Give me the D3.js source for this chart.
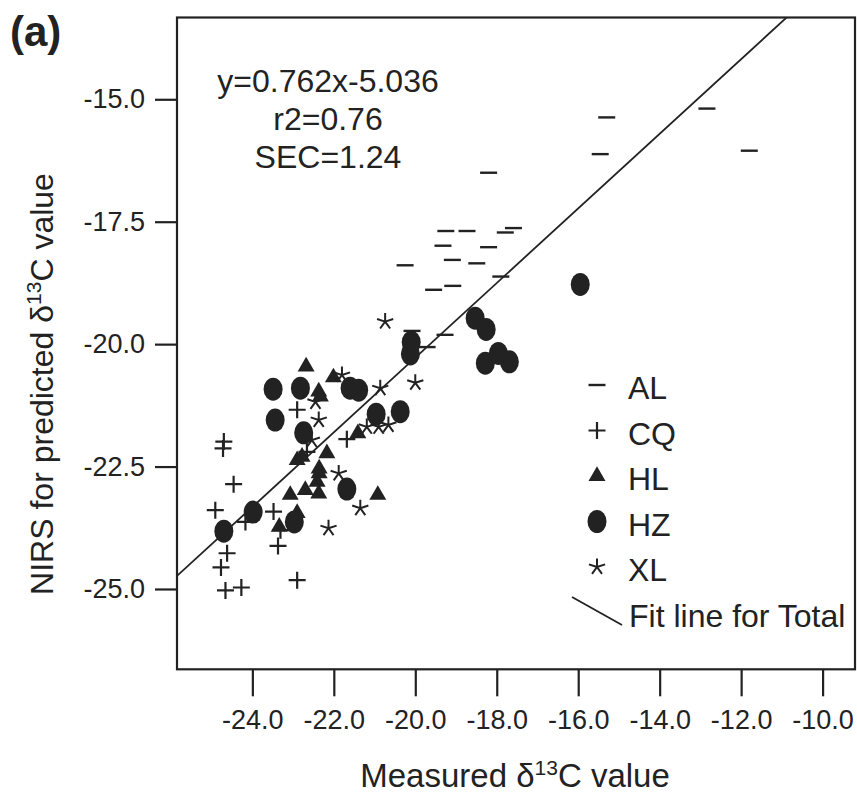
<!DOCTYPE html>
<html>
<head>
<meta charset="utf-8">
<script src="https://cdn.jsdelivr.net/npm/d3@7"></script>
<style>
  body { margin: 0; background: #fff; }
  svg text { font-family: 'Liberation Sans', Arial, sans-serif; fill: #222; }
</style>
</head>
<body>
<script>
// board size
var width = 857;
var height = 799;

// [measured, predicted] pairs, one array per site
var AL = [[-12.84, -15.19], [-15.30, -15.37], [-15.46, -16.12], [-11.80, -16.05], [-18.20, -16.50],
          [-19.25, -17.69], [-18.73, -17.69], [-17.79, -17.72], [-17.59, -17.63], [-19.32, -17.99],
          [-18.20, -18.02], [-19.09, -18.28], [-18.49, -18.35], [-20.25, -18.39], [-17.90, -18.62],
          [-19.55, -18.89], [-19.08, -18.81], [-19.27, -19.81], [-19.71, -20.06], [-20.08, -19.73]];
var CQ = [[-22.90, -21.34], [-24.70, -21.99], [-24.72, -22.13], [-24.46, -22.86], [-24.91, -23.39],
          [-24.17, -23.63], [-23.48, -23.42], [-23.31, -23.80], [-23.37, -24.12], [-24.62, -24.27],
          [-24.77, -24.56], [-24.66, -25.03], [-24.27, -24.97], [-22.90, -24.82], [-21.68, -21.94],
          [-22.66, -22.20]];
var HL = [[-22.68, -20.46], [-22.01, -20.68], [-22.37, -20.97], [-22.33, -21.07], [-21.41, -21.82],
          [-22.90, -22.37], [-22.78, -22.30], [-22.17, -22.23], [-22.36, -22.54], [-22.36, -22.64],
          [-22.41, -22.81], [-23.07, -23.08], [-22.70, -22.98], [-22.37, -23.05], [-20.92, -23.08],
          [-23.34, -23.73], [-22.90, -23.45]];
var HZ = [[-23.49, -20.92], [-22.82, -20.90], [-21.60, -20.90], [-21.39, -20.94], [-23.44, -21.55],
          [-22.74, -21.81], [-20.96, -21.43], [-20.37, -21.38], [-21.68, -22.96], [-23.98, -23.43],
          [-24.70, -23.82], [-22.97, -23.63], [-20.10, -19.96], [-20.12, -20.20], [-18.53, -19.47],
          [-18.26, -19.70], [-15.95, -18.78], [-18.28, -20.39], [-17.96, -20.19], [-17.69, -20.36]];
var XL = [[-20.74, -19.54], [-21.80, -20.63], [-20.86, -20.90], [-20.00, -20.79], [-22.45, -21.18],
          [-22.37, -21.55], [-22.54, -21.96], [-21.19, -21.69], [-20.90, -21.69], [-20.66, -21.65],
          [-21.88, -22.64], [-21.35, -23.35], [-22.13, -23.76]];

var xTicks = [-24, -22, -20, -18, -16, -14, -12, -10];
var yTicks = [-25, -22.5, -20, -17.5, -15];
var fitSlope = 0.762;
var fitIntercept = -5.036;
var statLines = ['y=0.762x-5.036', 'r2=0.76', 'SEC=1.24'];
var groups = [
  { name: 'AL', kind: 'dash', data: AL },
  { name: 'CQ', kind: 'plus', data: CQ },
  { name: 'HL', kind: 'tri', data: HL },
  { name: 'HZ', kind: 'dot', data: HZ },
  { name: 'XL', kind: 'star', data: XL }
];

var ink = '#222';
var svg = d3.select('body').append('svg')
            .attr('width', width)
            .attr('height', height);

var x = d3.scaleLinear().domain([-25.85, -9.18]).range([177, 856]);
var y = d3.scaleLinear().domain([-26.64, -13.33]).range([669.3, 17.5]);

// plain hyphen, not the unicode minus d3 uses
var fmt = function(d) { return d.toFixed(1); };

svg.append('clipPath').attr('id', 'plotclip')
  .append('rect')
  .attr('x', x.range()[0]).attr('y', y.range()[1])
  .attr('width', x.range()[1] - x.range()[0])
  .attr('height', y.range()[0] - y.range()[1]);

// axes
var xAxis = svg.append('g')
  .attr('transform', 'translate(0,' + y.range()[0] + ')')
  .call(d3.axisBottom(x).tickValues(xTicks).tickFormat(fmt)
        .tickSize(27).tickSizeOuter(0).tickPadding(14));
var yAxis = svg.append('g')
  .attr('transform', 'translate(' + x.range()[0] + ',0)')
  .call(d3.axisLeft(y).tickValues(yTicks).tickFormat(fmt)
        .tickSize(22).tickSizeOuter(0).tickPadding(10));
[xAxis, yAxis].forEach(function(a) {
  a.select('.domain').remove();
  a.selectAll('line').attr('stroke', ink).attr('stroke-width', 2.2);
  a.selectAll('text').style('font-size', '27px').style('font-family', null).attr('fill', ink);
});

// frame
svg.append('rect')
  .attr('x', x.range()[0]).attr('y', y.range()[1])
  .attr('width', x.range()[1] - x.range()[0] - 1)
  .attr('height', y.range()[0] - y.range()[1])
  .attr('fill', 'none').attr('stroke', ink).attr('stroke-width', 2.2);

// fit line
var xd = x.domain();
svg.append('line')
  .attr('clip-path', 'url(#plotclip)')
  .attr('x1', x(xd[0])).attr('y1', y(fitSlope * xd[0] + fitIntercept))
  .attr('x2', x(xd[1])).attr('y2', y(fitSlope * xd[1] + fitIntercept))
  .attr('stroke', ink).attr('stroke-width', 1.8);

// marker painter
var drawMarker = function(sel, kind) {
  if (kind === 'dash') {
    sel.append('path').attr('d', 'M-8.5,0H8.5').attr('stroke', ink).attr('stroke-width', 2.4);
  } else if (kind === 'plus') {
    sel.append('path').attr('d', 'M-8.5,0H8.5M0,-8.5V8.5').attr('stroke', ink).attr('stroke-width', 2.2);
  } else if (kind === 'tri') {
    sel.append('path').attr('d', d3.symbol().type(d3.symbolTriangle).size(125)).attr('fill', ink);
  } else if (kind === 'dot') {
    sel.append('ellipse').attr('rx', 9.5).attr('ry', 11.5).attr('fill', ink);
  } else {
    var d = '';
    for (var k = 0; k < 5; k++) {
      var a = -Math.PI / 2 + k * 2 * Math.PI / 5;
      d += 'M0,0L' + (8.5 * Math.cos(a)).toFixed(2) + ',' + (8.5 * Math.sin(a)).toFixed(2);
    }
    sel.append('path').attr('d', d).attr('stroke', ink).attr('stroke-width', 2).attr('fill', 'none');
  }
};

groups.forEach(function(g) {
  svg.append('g').selectAll('g.pt')
    .data(g.data)
    .enter()
    .append('g')
    .attr('class', 'pt')
    .attr('transform', function(d) { return 'translate(' + x(d[0]) + ',' + y(d[1]) + ')'; })
    .each(function() { drawMarker(d3.select(this), g.kind); });
});

// stats text
svg.append('g').selectAll('text')
  .data(statLines)
  .enter()
  .append('text')
  .attr('x', 328)
  .attr('y', function(d, i) { return 92 + i * 38; })
  .attr('text-anchor', 'middle')
  .style('font-size', '32px')
  .text(function(d) { return d; });

// legend
var legend = svg.append('g');
groups.forEach(function(g, i) {
  var row = legend.append('g').attr('transform', 'translate(597,' + (385 + i * 45.5) + ')');
  drawMarker(row, g.kind);
  row.append('text').attr('x', 31).attr('y', 14).style('font-size', '32px').text(g.name);
});
legend.append('line')
  .attr('x1', 572).attr('y1', 597).attr('x2', 622).attr('y2', 625)
  .attr('stroke', ink).attr('stroke-width', 1.8);
legend.append('text').attr('x', 629).attr('y', 627).style('font-size', '32px').text('Fit line for Total');

// axis titles
var xt = svg.append('text').attr('x', 515).attr('y', 787).attr('text-anchor', 'middle').style('font-size', '33px');
xt.append('tspan').text('Measured δ');
xt.append('tspan').attr('dy', -12).style('font-size', '21px').text('13');
xt.append('tspan').attr('dy', 12).text('C value');

var yt = svg.append('text').attr('transform', 'translate(53,384) rotate(-90)').attr('text-anchor', 'middle').style('font-size', '32px');
yt.append('tspan').text('NIRS for predicted δ');
yt.append('tspan').attr('dy', -12).style('font-size', '21px').text('13');
yt.append('tspan').attr('dy', 12).text('C value');

// panel tag
svg.append('text').attr('x', 10).attr('y', 46).style('font-size', '42px').style('font-weight', 'bold').text('(a)');
</script>
</body>
</html>
